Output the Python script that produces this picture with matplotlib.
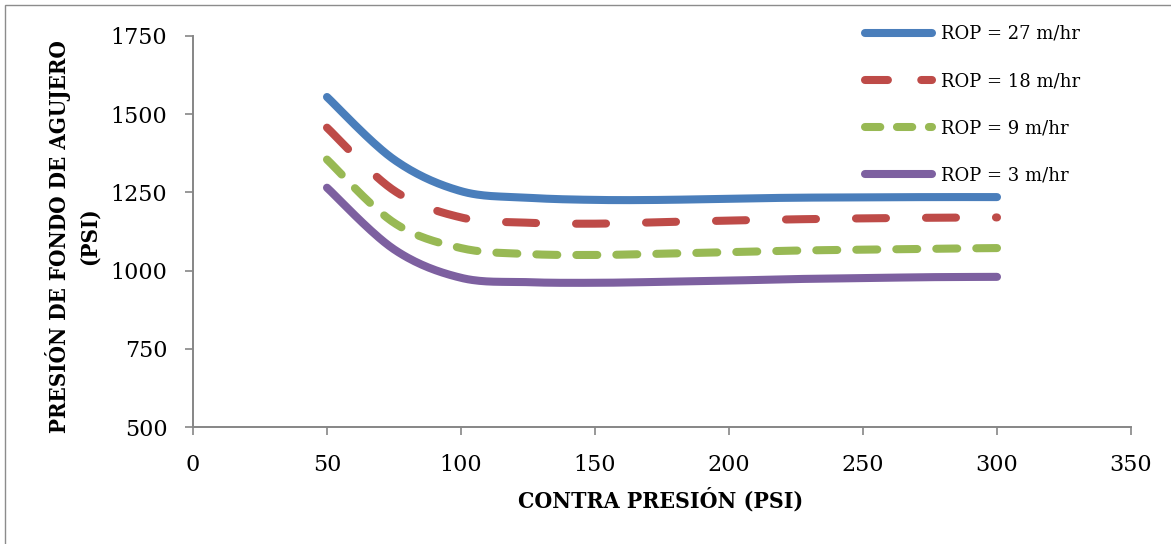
import numpy as np
import matplotlib
matplotlib.use("Agg")
import matplotlib.pyplot as plt
from matplotlib.patches import Rectangle

# Back pressure (psi) and bottom-hole pressure (psi) for each rate of penetration
contra_presion = [50, 75, 100, 125, 150, 175, 200, 225, 250, 275, 300]
rop_27 = [1555, 1355, 1254, 1233, 1226, 1226, 1230, 1233, 1234, 1235, 1235]
rop_18 = [1457, 1256, 1170, 1153, 1150, 1155, 1160, 1164, 1167, 1169, 1170]
rop_9 = [1355, 1153, 1072, 1053, 1050, 1054, 1059, 1064, 1067, 1070, 1072]
rop_3 = [1265, 1068, 977, 963, 961, 964, 968, 973, 976, 979, 980]

series_labels = ["ROP = 27 m/hr", "ROP = 18 m/hr", "ROP = 9 m/hr", "ROP = 3 m/hr"]
x_ticks = [0, 50, 100, 150, 200, 250, 300, 350]
y_ticks = [500, 750, 1000, 1250, 1500, 1750]


def smooth(xs, ys, steps=30):
    """Catmull-Rom style Bezier smoothing through every data point."""
    p = np.column_stack([xs, ys]).astype(float)
    n = len(p)
    out = [p[0]]
    t = np.linspace(0, 1, steps)[1:, None]
    for i in range(n - 1):
        p0 = p[max(i - 1, 0)]
        p1 = p[i]
        p2 = p[i + 1]
        p3 = p[min(i + 2, n - 1)]
        b1 = p1 + (p2 - p0) / 6.0
        b2 = p2 - (p3 - p1) / 6.0
        seg = ((1 - t) ** 3) * p1 + 3 * ((1 - t) ** 2) * t * b1 \
            + 3 * (1 - t) * t ** 2 * b2 + t ** 3 * p2
        out.extend(seg)
    out = np.array(out)
    return out[:, 0], out[:, 1]


plt.rcParams["lines.scale_dashes"] = False
plt.rcParams["font.family"] = ["DejaVu Serif"]

fig = plt.figure(figsize=(11.71, 5.44), dpi=100)
ax = fig.add_axes([193 / 1171, 1 - 427 / 544, 938 / 1171, 391 / 544])

lw = 5.8
styles = [
    dict(color="#4A7EBB", ls="-"),
    dict(color="#BE4B48", ls=(0, (21.6, 28.8))),
    dict(color="#98B954", ls=(0, (15.1, 13.7))),
    dict(color="#7D60A0", ls="-"),
]
for ys, lab, st in zip([rop_27, rop_18, rop_9, rop_3], series_labels, styles):
    sx, sy = smooth(contra_presion, ys)
    ax.plot(sx, sy, lw=lw, color=st["color"], linestyle=st["ls"],
            solid_capstyle="round", dash_capstyle="round", label=lab)

ax.set_xlim(0, 350)
ax.set_ylim(500, 1750)
ax.set_xticks(x_ticks)
ax.set_yticks(y_ticks)

axis_grey = "#868686"
for side in ["top", "right"]:
    ax.spines[side].set_visible(False)
for side in ["left", "bottom"]:
    ax.spines[side].set_color(axis_grey)
    ax.spines[side].set_linewidth(1.4)
ax.tick_params(axis="both", direction="out", length=5.5, width=1.2,
               color=axis_grey, labelsize=16, labelcolor="black")
ax.tick_params(axis="y", pad=13)
ax.tick_params(axis="x", pad=14)

ax.set_xlabel("CONTRA PRESIÓN (PSI)", fontsize=16.5, fontweight="bold",
              fontstretch="condensed")
ax.xaxis.set_label_coords(0.499, -0.187)
ax.xaxis.label.set_va("center")

ax.set_ylabel("PRESIÓN DE FONDO DE AGUJERO\n(PSI)", fontsize=16,
              fontweight="bold", fontstretch="condensed", linespacing=1.45)
ax.yaxis.set_label_coords(-0.128, 0.487)
ax.yaxis.label.set_va("center")
ax.yaxis.label.set_ha("center")

leg = ax.legend(loc="upper left", bbox_to_anchor=(865 / 1171, 1 - 25 / 544),
                bbox_transform=fig.transFigure, frameon=False, fontsize=13,
                handlelength=3.7, handletextpad=0.5, labelspacing=1.62,
                borderpad=0, borderaxespad=0)
hl = leg.get_lines()
hl[1].set_dashes([16.5, 24])
hl[2].set_dashes([11, 12])

# thin grey outline around the chart area
fig.add_artist(Rectangle((5.5 / 1171, -0.1), 1.2, 1.1 - 5.5 / 544,
                         transform=fig.transFigure, fill=False,
                         edgecolor="#8c8c8c", lw=1.0))

fig.savefig("out.png", dpi=100)
